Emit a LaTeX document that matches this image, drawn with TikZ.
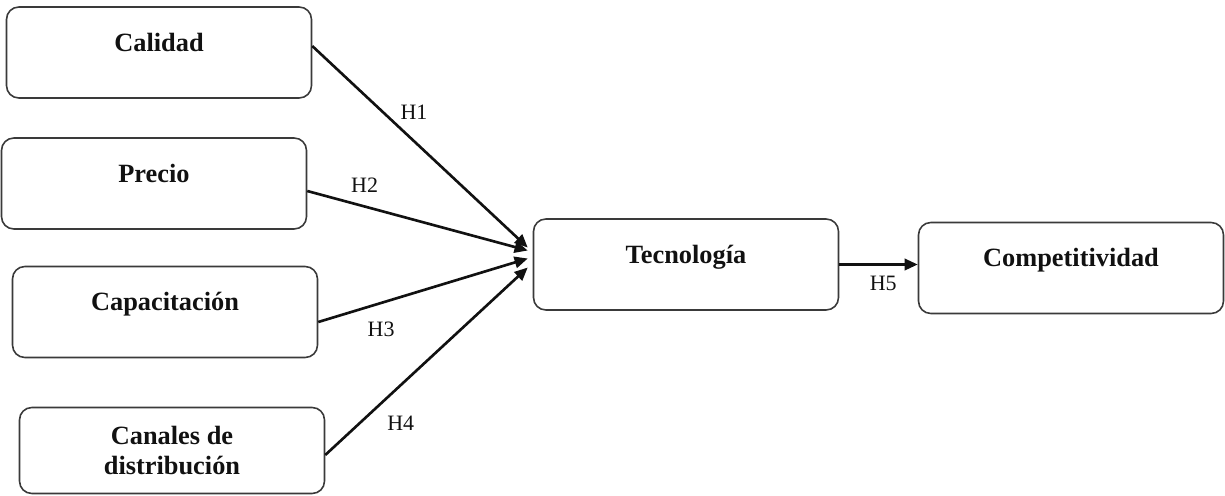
\documentclass[tikz,border=0pt]{standalone}
\usepackage{fontspec}
\setmainfont{Liberation Serif}
\usetikzlibrary{
  arrows.meta,
  calc,
  positioning
}
\definecolor{ink}{HTML}{111111}
\definecolor{edge}{HTML}{3A3A3A}
\tikzset{
  construct/.style={
    draw=edge,
    line width=0.9pt,
    rounded corners=7pt,
    minimum width=6.1cm,
    minimum height=1.82cm,
    align=center,
    text=ink,
    font=\fontsize{15}{17}\selectfont\bfseries
  },
  topconstruct/.style={
    construct,
    text height=10pt,
    text depth=11.5pt
  },
  hypo/.style={
    -{Triangle[length=7.5pt,width=6.5pt]},
    line width=1.5pt,
    draw=ink
  },
  hlabel/.style={
    inner sep=0pt,
    text=ink,
    font=\fontsize{12.5}{15}\selectfont
  }
}

\begin{document}
\begin{tikzpicture}[x=0.02cm, y=-0.02cm]
  \useasboundingbox (0,0) rectangle (1225,495);
  % antecedentes
  \node[topconstruct] (cal) at (159,52.5) {Calidad};
  \node[topconstruct] (pre) at (154,183.5) {Precio};
  \node[topconstruct] (cap) at (165,312) {Capacitación};
  \node[construct, minimum height=1.72cm] (can) at (172,450.5) {Canales de\\distribución};
  % mediadora y resultado
  \node[topconstruct] (tec) at (686,264.5) {Tecnología};
  \node[topconstruct] (com) at (1071,268) {Competitividad};
  % hipotesis
  \draw[hypo] ($(cal.east)+(0,-6.5)$) -- ($(tec.west)+(-5,-17)$)
    node[hlabel, pos=0.33, right=9pt] (h1) {H1};
  \draw[hypo] ($(pre.east)+(0,7.5)$) -- ($(tec.west)+(-5,-14)$)
    node[hlabel, pos=0.26, above=7pt] (h2) {H2};
  \draw[hypo] ($(cap.east)+(0,10)$) -- ($(tec.west)+(-5,-6)$)
    node[hlabel, pos=0.3, below=10pt] (h3) {H3};
  \draw[hypo] ($(can.east)+(0,4.5)$) -- ($(tec.west)+(-5,3)$)
    node[hlabel, pos=0.17, right=15pt] (h4) {H4};
  \draw[hypo] (tec.east) -- (tec.east -| com.west)
    node[hlabel, pos=0.56, below=6pt] (h5) {H5};
\end{tikzpicture}
\end{document}
